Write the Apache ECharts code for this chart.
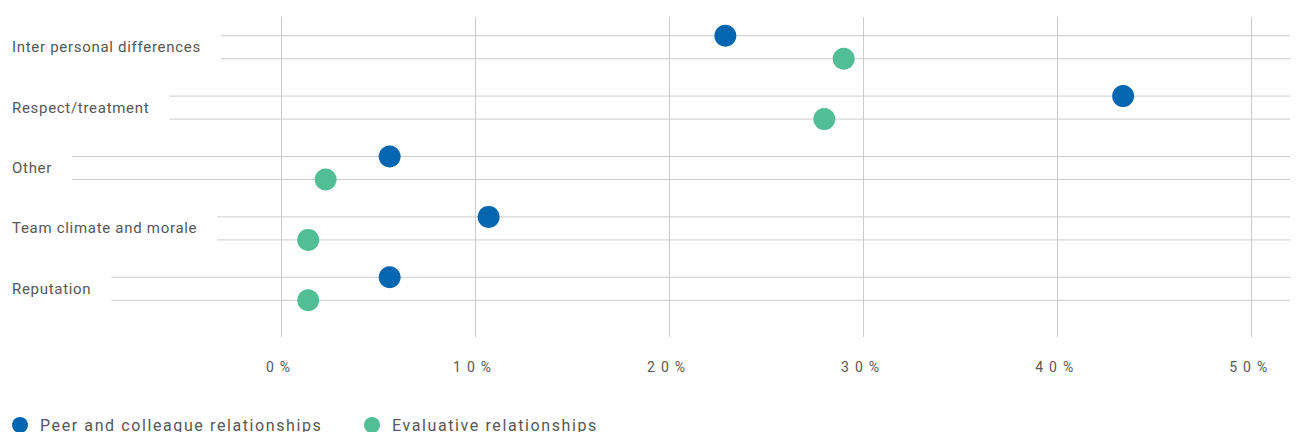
<!DOCTYPE html>
<html>
<head>
<meta charset="utf-8">
<script src="https://cdn.jsdelivr.net/npm/echarts@6/dist/echarts.min.js"></script>
<style>
  html, body { margin: 0; background: #fff; }
  #chart { width: 1296px; height: 432px; }
  /* tracked type like the original: axis labels 14px, row labels 15px, legend 16px */
  #chart text[style*="14px"] { letter-spacing: 6px; }
  #chart text[style*="15px"] { letter-spacing: 0.7px; }
  #chart text[style*="16px"] { letter-spacing: 1.6px; }
</style>
</head>
<body>
<div id="chart"></div>
<script>
const categories = [
  'Inter personal differences',
  'Respect/treatment',
  'Other',
  'Team climate and morale',
  'Reputation',
]
const peer = [22.9, 43.4, 5.6, 10.7, 5.6]
const evaluative = [29.0, 28.0, 2.3, 1.4, 1.4]
const seriesNames = ['Peer and colleague relationships', 'Evaluative relationships']

const xMin = 0
const xMax = 52
const xStep = 10

const BLUE = '#0366b1'
const GREEN = '#51be96'
const LINE = '#cbcbcb'
const TEXT = '#575757'

const labelLeft = 12
const gridLeft = 281
const labelFont = '15px Roboto'
const labelTracking = 0.7
const rowOffset = 11.5

const measureCtx = document.createElement('canvas').getContext('2d')
measureCtx.font = labelFont
function labelWidth(name) {
  return measureCtx.measureText(name).width + labelTracking * name.length
}

const chart = echarts.init(document.getElementById('chart'), null, { renderer: 'svg' })

const legendBase = {
  top: 417,
  padding: 0,
  icon: 'circle',
  itemWidth: 30,
  itemHeight: 16,
  textStyle: { color: TEXT, fontFamily: 'Roboto', fontSize: 16 },
}

chart.setOption({
  animation: false,
  grid: [
    { left: gridLeft, right: 6, top: 17, bottom: 95 },
    { left: gridLeft, right: 6, top: 17, bottom: 113 },
  ],
  xAxis: [
    {
      gridIndex: 0,
      type: 'value',
      min: xMin,
      max: xMax,
      interval: xStep,
      axisLine: { show: false },
      axisTick: { show: false },
      splitLine: { show: true, showMaxLine: false, lineStyle: { color: LINE, width: 1 } },
      axisLabel: {
        showMaxLabel: false,
        color: TEXT,
        fontFamily: 'Roboto',
        fontSize: 14,
        margin: 23,
        formatter: v => v + '%',
      },
    },
    {
      gridIndex: 1,
      type: 'value',
      min: xMin,
      max: xMax,
      show: false,
    },
  ],
  yAxis: [
    { gridIndex: 0, type: 'value', show: false, min: 0, max: 1 },
    {
      gridIndex: 1,
      type: 'category',
      inverse: true,
      data: categories,
      axisLine: { show: false },
      axisTick: { show: false },
      splitLine: { show: false },
      axisLabel: {
        align: 'left',
        margin: gridLeft - labelLeft,
        color: TEXT,
        fontFamily: 'Roboto',
        fontSize: 15,
      },
    },
  ],
  legend: [
    { ...legendBase, data: [seriesNames[0]], left: 12 },
    { ...legendBase, data: [seriesNames[1]], left: 364 },
  ],
  series: [
    {
      type: 'custom',
      name: 'rows',
      xAxisIndex: 1,
      yAxisIndex: 1,
      silent: true,
      z: 1,
      data: categories.map((c, i) => [i]),
      encode: { y: 0 },
      renderItem(params, api) {
        const i = api.value(0)
        const y = api.coord([xMin, i])[1]
        const xEnd = api.coord([xMax, i])[0]
        const xStart = labelLeft + labelWidth(categories[i]) + 20
        return {
          type: 'group',
          children: [-rowOffset, rowOffset].map(dy => ({
            type: 'line',
            shape: { x1: xStart, y1: y + dy, x2: xEnd, y2: y + dy },
            style: { stroke: LINE, lineWidth: 1 },
          })),
        }
      },
    },
    {
      type: 'scatter',
      name: seriesNames[0],
      xAxisIndex: 1,
      yAxisIndex: 1,
      z: 3,
      symbol: 'circle',
      symbolSize: 22,
      symbolOffset: [0, -rowOffset],
      itemStyle: { color: BLUE, opacity: 1 },
      data: peer.map((v, i) => [v, categories[i]]),
    },
    {
      type: 'scatter',
      name: seriesNames[1],
      xAxisIndex: 1,
      yAxisIndex: 1,
      z: 3,
      symbol: 'circle',
      symbolSize: 22,
      symbolOffset: [0, rowOffset],
      itemStyle: { color: GREEN, opacity: 1 },
      data: evaluative.map((v, i) => [v, categories[i]]),
    },
  ],
})
</script>
</body>
</html>
